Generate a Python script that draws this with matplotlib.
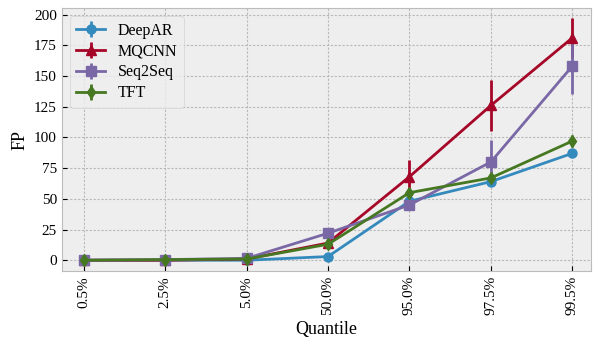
import matplotlib
matplotlib.use("Agg")
import matplotlib.pyplot as plt
import numpy as np

quantiles = ["0.5%", "2.5%", "5.0%", "50.0%", "95.0%", "97.5%", "99.5%"]

deepar = [0, 0, 0, 3, 48, 64, 87]
deepar_err = [0, 0, 0, 0.5, 2, 2, 2]
mqcnn = [0, 0, 1, 14, 68, 126, 181]
mqcnn_err = [0, 0, 0.5, 2, 14, 21, 16]
seq2seq = [0, 0.5, 1.5, 22, 45, 80, 158]
seq2seq_err = [0, 0, 0.5, 1, 4, 18, 23]
tft = [0, 0.5, 1, 13, 55, 67, 97]
tft_err = [0, 0, 0.5, 1, 2, 2, 5]

plt.style.use("bmh")
plt.rcParams["font.family"] = ["Liberation Serif", "DejaVu Serif"]

fig, ax = plt.subplots(figsize=(6, 3.37), dpi=100)
x = np.arange(len(quantiles))

series = [
    ("DeepAR", deepar, deepar_err, "o"),
    ("MQCNN", mqcnn, mqcnn_err, "^"),
    ("Seq2Seq", seq2seq, seq2seq_err, "s"),
    ("TFT", tft, tft_err, "d"),
]
for name, vals, err, mk in series:
    ax.errorbar(x, vals, yerr=err, marker=mk, markersize=6.5, label=name)

ax.set_xticks(x)
ax.set_xticklabels(quantiles, rotation=90, fontsize=11)
ax.set_yticks(np.arange(0, 201, 25))
ax.tick_params(axis="y", labelsize=11)
ax.set_xlim(-0.27, 6.23)
ax.set_ylim(-9, 205)
ax.set_xlabel("Quantile", fontsize=13)
ax.set_ylabel("FP", fontsize=13)
ax.grid(linestyle=(0, (2, 1.5)), color="#b8b8b8", linewidth=0.8)
for s in ax.spines.values():
    s.set_visible(True)
    s.set_color("#bcbcbc")
ax.legend(loc="upper left", fontsize=11.5, handlelength=1.8, labelspacing=0.3)

fig.subplots_adjust(left=0.103, right=0.985, top=0.975, bottom=0.195)
fig.savefig("out.png", dpi=100)
